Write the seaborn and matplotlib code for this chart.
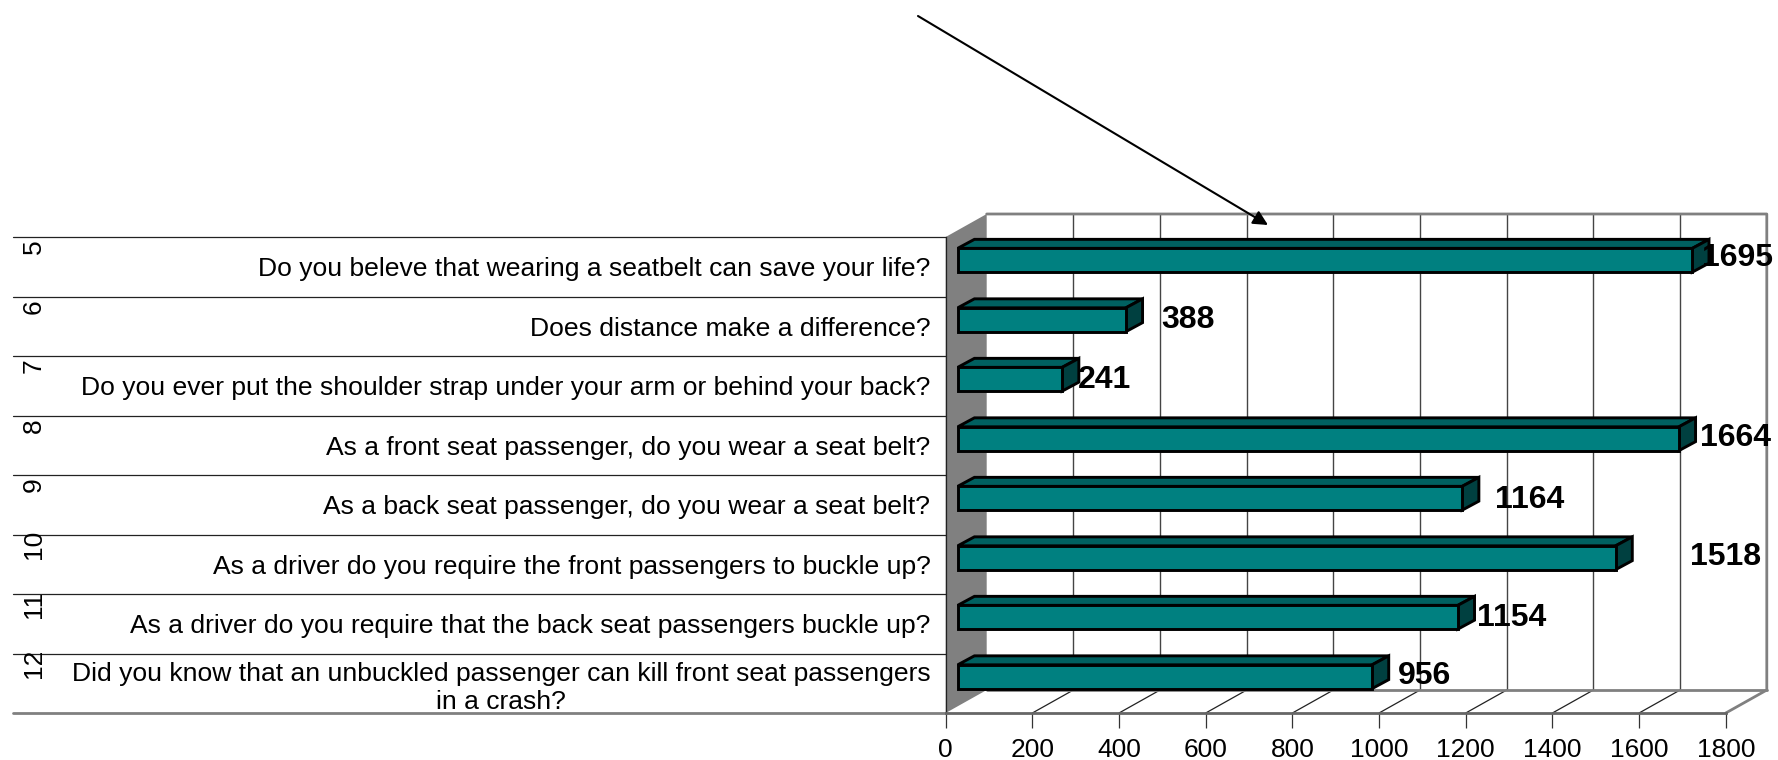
import matplotlib
matplotlib.use("Agg")
import matplotlib.pyplot as plt
import pandas as pd
import seaborn as sns
from matplotlib.patches import Polygon

questions = [
    "Do you beleve that wearing a seatbelt can save your life?",
    "Does distance make a difference?",
    "Do you ever put the shoulder strap under your arm or behind your back?",
    "As a front seat passenger, do you wear a seat belt?",
    "As a back seat passenger, do you wear a seat belt?",
    "As a driver do you require the front passengers to buckle up?",
    "As a driver do you require that the back seat passengers buckle up?",
    "Did you know that an unbuckled passenger can kill front seat passengers\nin a crash?",
]
question_numbers = [5, 6, 7, 8, 9, 10, 11, 12]
counts = [1695, 388, 241, 1664, 1164, 1518, 1154, 956]
x_ticks = [0, 200, 400, 600, 800, 1000, 1200, 1400, 1600, 1800]

# hand placed value labels, pixels away from the end of each bar
label_dx = [57, 74, 54, 69, 79, 122, 66, 64]
label_dy = [9, 6, 6, 7, 5, 7, 6, 7]

W, H = 1778, 760
AX_L, AX_R, AX_T, AX_B = 945.7, 1725.8, 237, 713
PX_X = (AX_R - AX_L) / 1800
PX_Y = (AX_B - AX_T) / 8

# fake 3d depth, in data units
wall_dx = 41 / PX_X
wall_dy = 23 / PX_Y
bar_start = 12 / PX_X
bar_dx = 16.7 / PX_X
bar_dy = 9 / PX_Y
bar_shift = 6.5 / PX_Y

sns.set_theme(style="white")
plt.rcParams["font.family"] = ["Liberation Sans", "DejaVu Sans"]

df = pd.DataFrame({"question": questions, "count": counts})

fig = plt.figure(figsize=(W / 100, H / 100), dpi=100)
ax = fig.add_axes([AX_L / W, 1 - AX_B / H, (AX_R - AX_L) / W, (AX_B - AX_T) / H])

sns.barplot(data=df, x="count", y="question", color="#008080", saturation=1,
            width=0.4, edgecolor="black", linewidth=2.1, zorder=5, ax=ax)
bars = list(ax.patches)

ax.set_xlim(0, 1800)
ax.set_ylim(7.5, -0.5)
ax.set_xlabel("")
ax.set_ylabel("")
ax.set_xticks(x_ticks)

top, bottom = -0.5, 7.5
back_top, back_bottom = top - wall_dy, bottom - wall_dy

# side wall and back plane
ax.add_patch(Polygon([(0, top), (wall_dx, back_top), (wall_dx, back_bottom), (0, bottom)],
                     closed=True, fc="#808080", ec="none", clip_on=False, zorder=1))
for t in x_ticks[1:-1]:
    ax.plot([t + wall_dx] * 2, [back_top, back_bottom], color="#444444", lw=1, clip_on=False, zorder=2)
    ax.plot([t, t + wall_dx], [bottom, back_bottom], color="#222222", lw=0.9, clip_on=False, zorder=2)
ax.plot([wall_dx, 1800 + wall_dx, 1800 + wall_dx, 1800],
        [back_top, back_top, back_bottom, bottom], color="#808080", lw=2, clip_on=False, zorder=2)
ax.plot([wall_dx, 1800 + wall_dx], [back_bottom, back_bottom], color="#808080", lw=2, clip_on=False, zorder=2)

# turn the flat bars into boxes
for i, p in enumerate(bars):
    p.set_x(bar_start)
    p.set_y(p.get_y() - bar_shift)
    p.set_clip_on(False)
    x0, x1 = p.get_x(), p.get_x() + p.get_width()
    y0, y1 = p.get_y(), p.get_y() + p.get_height()
    ax.add_patch(Polygon([(x0, y0), (x0 + bar_dx, y0 - bar_dy), (x1 + bar_dx, y0 - bar_dy), (x1, y0)],
                         closed=True, fc="#006060", ec="black", lw=2.1, clip_on=False, zorder=4))
    ax.add_patch(Polygon([(x1, y0), (x1 + bar_dx, y0 - bar_dy), (x1 + bar_dx, y1 - bar_dy), (x1, y1)],
                         closed=True, fc="#004040", ec="black", lw=2.1, clip_on=False, zorder=4))
    ax.annotate(str(counts[i]), xy=(counts[i], i), xytext=(label_dx[i], label_dy[i]),
                textcoords="offset pixels", ha="center", va="center",
                fontsize=23, fontweight="bold", color="black", zorder=8, annotation_clip=False)

# table part on the left
line_start = (12.5 - AX_L) / (AX_R - AX_L)
tr = ax.get_yaxis_transform()
for i in range(len(questions) + 1):
    last = i == len(questions)
    ax.plot([line_start, 0], [i - 0.5] * 2, transform=tr, clip_on=False, zorder=2,
            color="#808080" if last else "#222222", lw=2 if last else 0.9)
for i, n in enumerate(question_numbers):
    ax.text((34 - AX_L) / (AX_R - AX_L), i - 0.33, str(n), transform=tr, rotation=90,
            ha="center", va="center", fontsize=19, color="black")

sns.despine(ax=ax, top=True, right=True)
ax.spines["left"].set_color("#222222")
ax.spines["left"].set_linewidth(0.9)
ax.spines["bottom"].set_color("#666666")
ax.spines["bottom"].set_linewidth(2)
ax.tick_params(axis="x", length=11, width=0.9, color="#333333", labelsize=19, pad=7,
               labelcolor="black", bottom=True)
ax.tick_params(axis="y", length=0, labelsize=19.05, pad=11, labelcolor="black")
for lab in ax.get_yticklabels():
    lab.set_multialignment("center")

# arrow from the top down to the chart
ax.annotate("", xy=(1268, H - 225), xytext=(918, H - 16),
            xycoords="figure pixels", textcoords="figure pixels",
            arrowprops=dict(arrowstyle="-|>", color="black", lw=1.5, mutation_scale=22,
                            shrinkA=0, shrinkB=0), zorder=9, annotation_clip=False)

fig.savefig("out.png", dpi=100)
